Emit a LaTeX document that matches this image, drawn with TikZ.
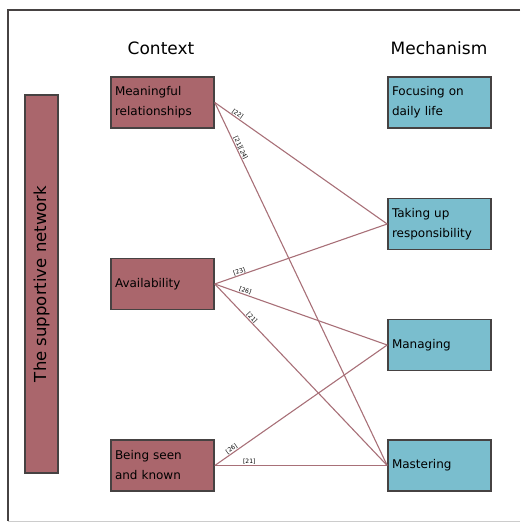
\documentclass[tikz,border=0pt]{standalone}
\usepackage{fontspec}
\setmainfont{DejaVu Sans}
\usepackage{xcolor}
\usetikzlibrary{positioning}
\definecolor{ctxfill}{RGB}{170,102,108}
\definecolor{mechfill}{RGB}{122,190,206}
\definecolor{linkcol}{RGB}{168,112,120}
\definecolor{rimcol}{RGB}{70,66,66}

\begin{document}
\begin{tikzpicture}[x=1pt,y=-1pt,
                ctxbox/.style = {draw=rimcol, line width=1.6pt, fill=ctxfill, minimum width=103pt, minimum height=51pt,
                                 text width=95pt, align=left, font=\fontsize{12}{20}\selectfont, inner sep=4pt},
                mechbox/.style = {ctxbox, fill=mechfill},
                link/.style = {draw=linkcol, line width=1.1pt},
                cite/.style = {font=\fontsize{6}{6}\selectfont, sloped, above, inner sep=0.5pt}]
            \useasboundingbox (0,0) rectangle (520,522);
            \draw[rimcol, line width=1.6pt] (520,10) -- (8,10) -- (8,521);
            \draw[gray!40, line width=0.6pt] (8,521) -- (520,521);
            % headers
            \node (hctx) at (161,48) {\fontsize{17}{20}\selectfont Context};
            \node (hmech) at (439,48) {\fontsize{17}{20}\selectfont Mechanism};
            % side bar
            \node[draw=rimcol, line width=1.6pt, fill=ctxfill, minimum width=33pt, minimum height=378pt,
                  inner sep=0pt] (net) at (41.5,284) {};
            \node[rotate=90, font=\fontsize{16.5}{18}\selectfont] at (net.center) {The supportive network};
            % context
            \node[ctxbox] (mean) at (162.5,102.5) {Meaningful\\relationships};
            \node[ctxbox] (avail) at (162.5,284) {Availability};
            \node[ctxbox] (seen) at (162.5,465.5) {Being seen\\and known};
            % mechanisms
            \node[mechbox] (focus) at (439.5,102.5) {Focusing on\\daily life};
            \node[mechbox] (resp) at (439.5,224) {Taking up\\responsibility};
            \node[mechbox] (manage) at (439.5,345) {Managing};
            \node[mechbox] (master) at (439.5,465.5) {Mastering};
            % links
            \draw[link] (mean.east) -- node[cite, pos=0.12] {[22]} (resp.west);
            \draw[link] (mean.east) -- node[cite, pos=0.13] {[21][24]} (master.west);
            \draw[link] (avail.east) -- node[cite, pos=0.15] {[23]} (resp.west);
            \draw[link] (avail.east) -- node[cite, pos=0.17] {[26]} (manage.west);
            \draw[link] (avail.east) -- node[cite, pos=0.2] {[21]} (master.west);
            \draw[link] (seen.east) -- node[cite, pos=0.11] {[26]} (manage.west);
            \draw[link] (seen.east) -- node[cite, pos=0.2] {[21]} (master.west);
\end{tikzpicture}
\end{document}
